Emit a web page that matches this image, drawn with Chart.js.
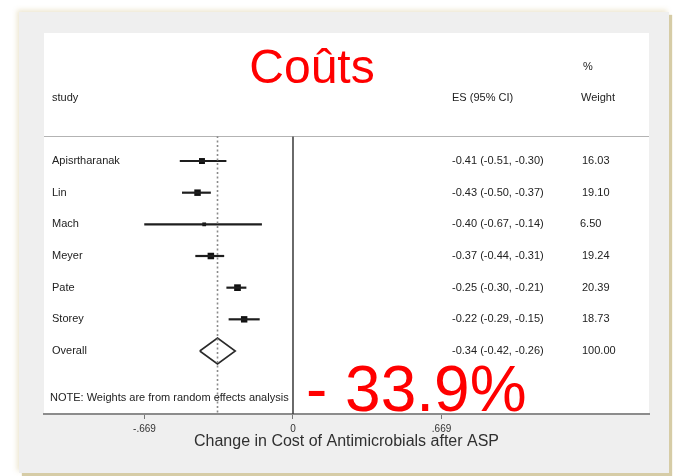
<!DOCTYPE html>
<html>
<head>
<meta charset="utf-8">
<title>Coûts</title>
<script src="https://cdn.jsdelivr.net/npm/chart.js@4/dist/chart.umd.min.js"></script>
<style>
  html, body { margin: 0; padding: 0; background: #ffffff; }
  body { width: 673px; height: 476px; position: relative; overflow: hidden; }
  #frame {
    position: absolute; left: 19px; top: 12px; width: 650px; height: 461px;
    background: #efefef;
    box-shadow: 3px 3px 1px #d6cca6, -2px -2px 5px rgba(215, 200, 150, 0.45);
  }
  #panel {
    position: absolute; left: 44px; top: 33px; width: 605px; height: 382px;
    background: #ffffff;
  }
  #wrap { position: absolute; left: 0; top: 0; width: 673px; height: 476px; }
</style>
</head>
<body>
<div id="frame"></div>
<div id="panel"></div>
<div id="wrap"><canvas id="c" width="673" height="476"></canvas></div>
<script>
// Study-level effect sizes (change in antimicrobial cost) with 95% CIs and weights
const studies = ['Apisrtharanak', 'Lin', 'Mach', 'Meyer', 'Pate', 'Storey'];
const es      = [-0.41, -0.43, -0.40, -0.37, -0.25, -0.22];
const ciLow   = [-0.51, -0.50, -0.67, -0.44, -0.30, -0.29];
const ciHigh  = [-0.30, -0.37, -0.14, -0.31, -0.21, -0.15];
const weights = [16.03, 19.10, 6.50, 19.24, 20.39, 18.73];

// Pooled random-effects estimate
const overallLabel = 'Overall';
const overallES = -0.34;
const overallLow = -0.42;
const overallHigh = -0.26;
const overallWeight = 100.00;

// Axis ticks
const xTicks = [-0.669, 0, 0.669];
const xTickLabels = ['-.669', '0', '.669'];

const titleText = 'Coûts';
const bigText = '- 33.9%';
const axisTitle = 'Change in Cost of Antimicrobials after ASP';
const noteText = 'NOTE: Weights are from random effects analysis';

// scale extents
const X_MIN = -1.1216, X_MAX = 1.6036;
const Y_MIN = -0.79, Y_MAX = 7.99;
const OVERALL_ROW = studies.length;
const DIAMOND_HALF = 0.41;

const FONT = '"Liberation Sans", Arial, Helvetica, sans-serif';
const INK = '#222222';

const fmt = v => v.toFixed(2);

const datasets = [];

// header separator
datasets.push({
  data: [{x: X_MIN, y: Y_MIN}, {x: X_MAX, y: Y_MIN}],
  showLine: true, borderColor: '#9a9a9a', borderWidth: 1.5, pointRadius: 0
});
// line of no effect
datasets.push({
  data: [{x: 0, y: Y_MIN}, {x: 0, y: Y_MAX}],
  showLine: true, borderColor: '#3a3a3a', borderWidth: 1.5, pointRadius: 0
});
// pooled estimate reference (dotted)
datasets.push({
  data: [{x: overallES, y: Y_MIN}, {x: overallES, y: Y_MAX}],
  showLine: true, borderColor: '#8a8a8a', borderWidth: 1.6, borderDash: [2, 2.5], pointRadius: 0
});
// confidence intervals
studies.forEach((s, i) => {
  datasets.push({
    data: [{x: ciLow[i], y: i}, {x: ciHigh[i], y: i}],
    showLine: true, borderColor: '#1e1e1e', borderWidth: 2.2, pointRadius: 0
  });
});
// point estimates, box area proportional to weight
datasets.push({
  data: es.map((v, i) => ({x: v, y: i})),
  showLine: false,
  pointStyle: 'rect',
  pointRadius: weights.map(w => 1.05 * Math.sqrt(w)),
  backgroundColor: '#111111', borderColor: '#111111', borderWidth: 0
});
// overall diamond
datasets.push({
  data: [
    {x: overallLow, y: OVERALL_ROW},
    {x: overallES, y: OVERALL_ROW - DIAMOND_HALF},
    {x: overallHigh, y: OVERALL_ROW},
    {x: overallES, y: OVERALL_ROW + DIAMOND_HALF},
    {x: overallLow, y: OVERALL_ROW}
  ],
  showLine: true, borderColor: '#2a2a2a', borderWidth: 1.6, pointRadius: 0, fill: false
});

// Row labels, estimate columns, headers and annotations
const textPlugin = {
  id: 'forestText',
  afterDraw(chart) {
    const ctx = chart.ctx;
    const ys = chart.scales.y;
    const px = v => ys.getPixelForValue(v);
    ctx.save();
    ctx.textBaseline = 'middle';
    ctx.textAlign = 'left';
    ctx.fillStyle = INK;
    ctx.font = '11px ' + FONT;

    // column headers
    ctx.fillText('study', 52, px(-1.99));
    ctx.fillText('ES (95% CI)', 452, px(-1.99));
    ctx.fillText('Weight', 581, px(-1.99));
    ctx.fillText('%', 583, px(-2.98));

    studies.forEach((s, i) => {
      const y = px(i);
      ctx.fillText(s, 52, y);
      ctx.fillText(fmt(es[i]) + ' (' + fmt(ciLow[i]) + ', ' + fmt(ciHigh[i]) + ')', 452, y);
      ctx.fillText(fmt(weights[i]), weights[i] < 10 ? 580 : 582, y);
    });
    const yo = px(OVERALL_ROW);
    ctx.fillText(overallLabel, 52, yo);
    ctx.fillText(fmt(overallES) + ' (' + fmt(overallLow) + ', ' + fmt(overallHigh) + ')', 452, yo);
    ctx.fillText(fmt(overallWeight), 582, yo);

    ctx.fillText(noteText, 50, px(7.48));

    // headline labels
    ctx.fillStyle = '#ff0000';
    ctx.textAlign = 'center';
    ctx.font = '48px ' + FONT;
    ctx.fillText(titleText, 312, px(-2.87));
    ctx.textAlign = 'left';
    ctx.font = '64px ' + FONT;
    ctx.fillText(bigText, 306, px(7.35));
    ctx.restore();
  }
};

new Chart(document.getElementById('c'), {
  type: 'scatter',
  data: { datasets },
  plugins: [textPlugin],
  options: {
    responsive: false,
    animation: false,
    events: [],
    layout: { padding: { left: 44, right: 24, top: 136, bottom: 22 } },
    plugins: { legend: { display: false }, tooltip: { enabled: false } },
    elements: { line: { tension: 0, borderCapStyle: 'butt' } },
    scales: {
      x: {
        type: 'linear',
        min: X_MIN, max: X_MAX,
        afterBuildTicks: s => { s.ticks = xTicks.map(v => ({value: v})); },
        afterFit: s => { s.height = 40; },
        ticks: {
          autoSkip: false, maxRotation: 0, padding: 4,
          color: '#333333',
          font: { family: FONT, size: 10 },
          callback: (v) => xTickLabels[xTicks.indexOf(v)] ?? ''
        },
        grid: { display: true, drawOnChartArea: false, drawTicks: true, tickLength: 5, color: '#777777', lineWidth: 1 },
        border: { display: true, color: '#8c8c8c', width: 2 },
        title: {
          display: true, text: axisTitle, color: '#303030',
          font: { family: FONT, size: 16 }, padding: { top: 0, bottom: 3 }
        }
      },
      y: {
        type: 'linear', reverse: true,
        min: Y_MIN, max: Y_MAX,
        display: false
      }
    }
  }
});
</script>
</body>
</html>
